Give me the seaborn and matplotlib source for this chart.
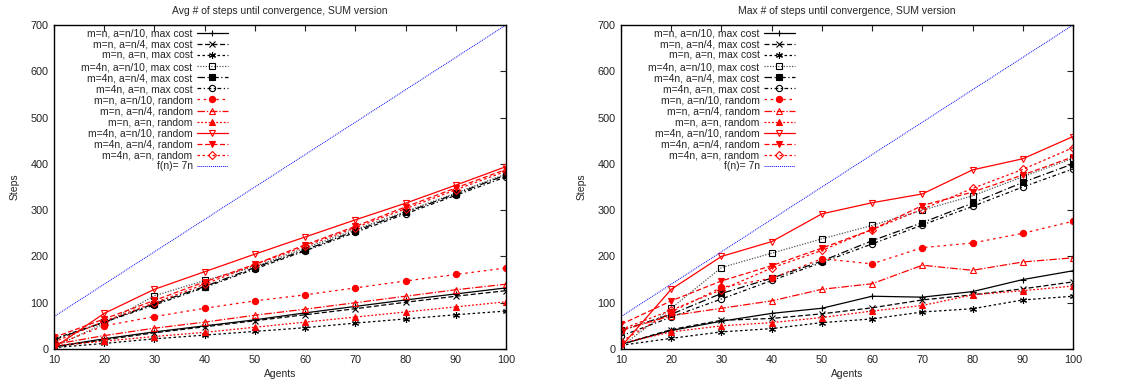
#libraries

import matplotlib
matplotlib.use("Agg")
import matplotlib.pyplot as plt
import seaborn as sns

# data

agents = [10, 20, 30, 40, 50, 60, 70, 80, 90, 100]

labels = ["m=n, a=n/10, max cost", "m=n, a=n/4, max cost", "m=n, a=n, max cost",
          "m=4n, a=n/10, max cost", "m=4n, a=n/4, max cost", "m=4n, a=n, max cost",
          "m=n, a=n/10, random", "m=n, a=n/4, random", "m=n, a=n, random",
          "m=4n, a=n/10, random", "m=4n, a=n/4, random", "m=4n, a=n, random"]

# Avg # of steps (left)
avg_n_n10_cost = [5, 22, 37, 50, 63, 78, 92, 106, 119, 132]
avg_n_n4_cost = [4, 20, 35, 48, 61, 74, 87, 101, 114, 126]
avg_n_n_cost = [3, 12, 22, 30, 38, 46, 56, 65, 74, 82]
avg_4n_n10_cost = [5, 55, 115, 148, 178, 218, 258, 297, 337, 378]
avg_4n_n4_cost = [20, 58, 98, 135, 176, 214, 255, 295, 335, 376]
avg_4n_n_cost = [22, 58, 95, 133, 173, 212, 252, 292, 332, 372]
avg_n_n10_rand = [8, 50, 70, 88, 104, 117, 132, 147, 161, 175]
avg_n_n4_rand = [10, 29, 45, 58, 73, 86, 100, 114, 128, 140]
avg_n_n_rand = [7, 17, 27, 36, 47, 58, 69, 80, 91, 102]
avg_4n_n10_rand = [3, 77, 129, 167, 205, 242, 279, 315, 354, 394]
avg_4n_n4_rand = [25, 65, 105, 145, 183, 225, 265, 307, 348, 388]
avg_4n_n_rand = [15, 60, 100, 140, 182, 222, 262, 303, 344, 384]

# Max # of steps (right)
max_n_n10_cost = [10, 40, 60, 77, 88, 114, 112, 124, 150, 169]
max_n_n4_cost = [10, 42, 62, 66, 76, 89, 106, 117, 130, 145]
max_n_n_cost = [8, 23, 37, 44, 57, 65, 80, 87, 106, 114]
max_4n_n10_cost = [5, 88, 176, 207, 238, 267, 300, 331, 372, 412]
max_4n_n4_cost = [40, 75, 120, 153, 190, 234, 273, 315, 360, 400]
max_4n_n_cost = [28, 69, 108, 148, 187, 227, 268, 308, 350, 389]
max_n_n10_rand = [16, 80, 133, 153, 195, 184, 219, 229, 250, 276]
max_n_n4_rand = [40, 72, 88, 104, 129, 141, 181, 170, 188, 197]
max_n_n_rand = [12, 37, 50, 57, 68, 82, 94, 117, 126, 136]
max_4n_n10_rand = [5, 129, 200, 232, 292, 316, 335, 387, 411, 459]
max_4n_n4_rand = [53, 104, 147, 180, 218, 258, 310, 339, 376, 415]
max_4n_n_rand = [42, 84, 128, 175, 213, 258, 302, 347, 388, 435]

avg_series = [avg_n_n10_cost, avg_n_n4_cost, avg_n_n_cost, avg_4n_n10_cost, avg_4n_n4_cost, avg_4n_n_cost,
              avg_n_n10_rand, avg_n_n4_rand, avg_n_n_rand, avg_4n_n10_rand, avg_4n_n4_rand, avg_4n_n_rand]
max_series = [max_n_n10_cost, max_n_n4_cost, max_n_n_cost, max_4n_n10_cost, max_4n_n4_cost, max_4n_n_cost,
              max_n_n10_rand, max_n_n4_rand, max_n_n_rand, max_4n_n10_rand, max_4n_n4_rand, max_4n_n_rand]

ref_n = [10, 100]
ref_f = [7 * n for n in ref_n]   # f(n) = 7n

# gnuplot-like styles: colour, dash, marker, filled?
colors = ['black', 'black', 'black', '#555555', 'black', 'black'] + ['red'] * 6
dashes = ['-', (0, (4, 2)), (0, (2, 2)), (0, (1, 1.2)), (0, (6, 2, 1, 2)), (0, (3, 2, 1, 2)),
          (0, (2, 3)), (0, (6, 1.5, 1, 1.5)), (0, (1.5, 1.5)), '-', (0, (4, 2)), (0, (2, 2))]
markers = ['+', 'x', (6, 2, 0), 's', 's', 'o', 'o', '^', '^', 'v', 'v', 'D']
msizes = [5, 4.5, 5, 4.5, 4.5, 4.5, 4.5, 5, 4, 5, 4, 3.8]
filled = [True, True, True, False, True, False, True, False, True, False, True, False]

sns.set_style("white")
plt.rcParams['font.family'] = ['Liberation Sans', 'DejaVu Sans']
plt.rcParams['font.size'] = 7.5

fig = plt.figure(figsize=(11.27, 3.87), dpi=100)
ax1 = fig.add_axes([54 / 1127, 1 - 349 / 387, 452 / 1127, 324 / 387])
ax2 = fig.add_axes([621 / 1127, 1 - 349 / 387, 452 / 1127, 324 / 387])

for ax, series, title in [(ax1, avg_series, "Avg # of steps until convergence, SUM version"),
                          (ax2, max_series, "Max # of steps until convergence, SUM version")]:
    for i, vals in enumerate(series):
        sns.lineplot(x=agents, y=vals, ax=ax, color=colors[i], linestyle=dashes[i],
                     marker=markers[i], markersize=msizes[i], linewidth=0.9,
                     markeredgecolor='black' if i < 6 else 'red', markeredgewidth=0.8,
                     markerfacecolor=colors[i] if filled[i] else 'none',
                     label=labels[i])
    sns.lineplot(x=ref_n, y=ref_f, ax=ax, color='blue', linestyle=(0, (1, 1)), linewidth=0.7,
                 label="f(n)= 7n")

    ax.set_xlim(10, 100)
    ax.set_ylim(0, 700)
    ax.set_xticks(agents)
    ax.set_yticks(range(0, 701, 100))
    ax.tick_params(direction='in', top=True, right=True, length=4, width=0.8,
                   labelsize=7.8, colors='#222222', pad=4)
    for s in ax.spines.values():
        s.set_color('black')
        s.set_linewidth(1.0)
    ax.set_title(title, fontsize=7.5, pad=8)
    ax.set_xlabel("Agents", fontsize=7.5, labelpad=3)
    ax.set_ylabel("Steps", fontsize=7.5, labelpad=8)
    ax.legend(loc='upper right', bbox_to_anchor=(0.385, 0.988), frameon=False, markerfirst=False,
              fontsize=7.5, handlelength=3.0, handletextpad=0.4, labelspacing=0.1,
              borderpad=0, borderaxespad=0, numpoints=1)

plt.savefig("out.png", dpi=100)
